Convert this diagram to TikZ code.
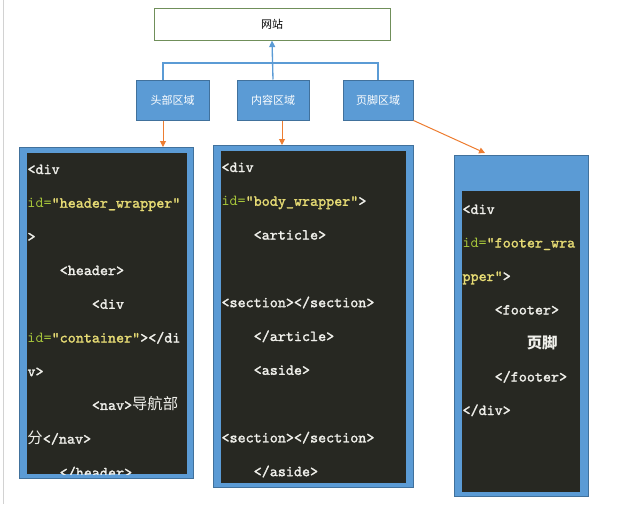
\documentclass[tikz,border=0pt]{standalone}
\usepackage{fontspec}
\usepackage{xcolor}
\usetikzlibrary{arrows.meta}
\newfontfamily\cjk{Noto Sans CJK SC}
\newfontfamily\codefont{lmmono10-regular.otf}[FakeBold=1.6]
\newfontfamily\codelight{lmmono10-regular.otf}
\definecolor{boxblue}{RGB}{91,155,213}
\definecolor{boxline}{RGB}{65,113,156}
\definecolor{codebg}{RGB}{39,40,34}
\definecolor{tagwhite}{RGB}{240,240,235}
\definecolor{attrgreen}{RGB}{166,197,58}
\definecolor{valyellow}{RGB}{230,219,116}
\definecolor{linkorange}{RGB}{237,125,49}
\definecolor{sitegreen}{RGB}{112,143,90}
\newcommand\attr[1]{{\codelight\color{attrgreen}#1}}
\newcommand\val[1]{{\color{valyellow}#1}}
\newcommand\ind[1]{\hspace*{#1\fontcharwd\font`x}}

\tikzset{every picture/.style={line width=0.75pt}}
\tikzset{
  sitebox/.style={draw=sitegreen,fill=white,minimum width=236*0.75pt,minimum height=32*0.75pt,inner sep=0,font=\cjk\fontsize{8.25}{10}\selectfont},
  areabox/.style={draw=boxline,fill=boxblue,minimum width=72*0.75pt,minimum height=40*0.75pt,inner sep=0,text=white,font=\cjk\fontsize{8.25}{10}\selectfont},
  outerbox/.style={draw=boxline,fill=boxblue,inner sep=0,anchor=north west},
  innerbox/.style={fill=codebg,inner sep=0,anchor=north west},
  codeline/.style={anchor=base west,inner sep=0,text=tagwhite,font=\codefont\fontsize{11.5}{12}\selectfont},
  conn/.style={draw=boxblue,line width=1pt},
  link/.style={draw=linkorange,line width=0.75pt,-{Triangle[length=4.5pt,width=4.5pt]}}
}

\begin{document}
\begin{tikzpicture}[x=0.75pt,y=0.75pt,yscale=-1,xscale=1]
\useasboundingbox (0,0) rectangle (636,504);
%page edge
\draw [color=gray!35] (3,0) -- (3,504);

%Shape: Rectangle [id:site]
\node [sitebox] (site) at (272,24) {网站};
%Shape: Rectangle [id:areas]
\node [areabox,minimum width=73*0.75pt] (head) at (172.5,100) {头部区域};
\node [areabox] (body) at (273,100) {内容区域};
\node [areabox,minimum width=70*0.75pt] (foot) at (378,100) {页脚区域};

%Straight Lines [id:tree]
\coordinate (hj) at (163,63);
\draw [conn] (hj |- head.north) -- (hj) -| (foot.north);
\draw [conn,-{Triangle[length=5pt,width=4.5pt]}] (body.north) -- (site.south);

%Shape: Code boxes
\node [outerbox,minimum width=174*0.75pt,minimum height=331*0.75pt] (hcode) at (19,147) {};
\node [innerbox,minimum width=160*0.75pt,minimum height=321*0.75pt] (hdark) at (26,152) {};
\node [outerbox,minimum width=200*0.75pt,minimum height=342*0.75pt] (bcode) at (213,145) {};
\node [innerbox,minimum width=185*0.75pt,minimum height=332*0.75pt] (bdark) at (220,150) {};
\node [outerbox,minimum width=134*0.75pt,minimum height=341*0.75pt] (fcode) at (454,155) {};
\node [innerbox,minimum width=118*0.75pt,minimum height=301*0.75pt] (fdark) at (461,190) {};

%Straight Lines [id:links]
\coordinate (ftip) at (485,153);
\draw [link] (hj |- head.south) -- (hj |- hcode.north);
\draw [link] ([xshift=9*0.75pt]body.south) -- ([xshift=9*0.75pt]body.south |- bcode.north);
\draw [link] (foot.south east) -- (ftip);

% Text Node
\begin{scope}
\clip (hdark.north west) rectangle (hdark.south east);
\foreach \i/\t in {0/{<div},
  1/{\attr{id=}\val{”header\_wrapper”}},
  2/{>},
  3/{\ind{4}<header>},
  4/{\ind{8}<div},
  5/{\attr{id=}\val{”container”}></di},
  6/{v>},
  7/{\ind{8}<nav>{\cjk 导航部}},
  8/{{\cjk 分}</nav>},
  9/{\ind{4}</header>}}
  \node [codeline] (h\i) at (27,174+33.7*\i) {\t};
\end{scope}

% Text Node
\begin{scope}
\clip (bdark.north west) rectangle (bdark.south east);
\foreach \i/\t in {0/{<div},
  1/{\attr{id=}\val{”body\_wrapper”}>},
  2/{\ind{4}<article>},
  4/{<section></section>},
  5/{\ind{4}</article>},
  6/{\ind{4}<aside>},
  8/{<section></section>},
  9/{\ind{4}</aside>}}
  \node [codeline] (b\i) at (221,172+33.8*\i) {\t};
\end{scope}

% Text Node
\begin{scope}
\clip (fdark.north west) rectangle (fdark.south east);
\foreach \i/\t in {0/{<div},
  1/{\attr{id=}\val{”footer\_wra}},
  2/{\val{pper”}>},
  3/{\ind{4}<footer>},
  4/{\ind{8}{\cjk\bfseries 页脚}},
  5/{\ind{4}</footer>},
  6/{</div>}}
  \node [codeline] (f\i) at (462,214+33.5*\i) {\t};
\end{scope}

\end{tikzpicture}
\end{document}
